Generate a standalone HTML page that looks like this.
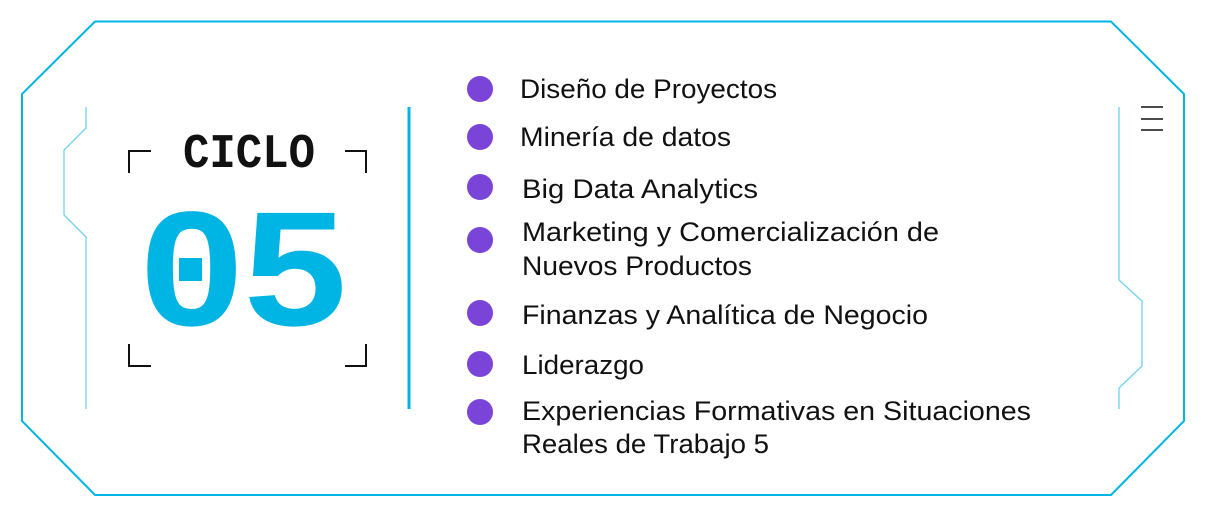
<!DOCTYPE html>
<html><head><meta charset="utf-8"><style>
html,body{margin:0;padding:0;background:#fff;}
svg{display:block;}
</style></head><body>
<svg width="1206" height="517" viewBox="0 0 1206 517" xmlns="http://www.w3.org/2000/svg">
<polygon points="95,21.5 1111,21.5 1184,94 1184,421 1111,495 95,495 22,421 22,94" fill="none" stroke="#00b4e3" stroke-width="2"/>
<polyline points="86,107 86,128 64,150 64,215 86,237 86,409" fill="none" stroke="#6fd0f0" stroke-width="1.3"/>
<polyline points="1119,107 1119,280 1142,301 1142,366 1119,388 1119,409" fill="none" stroke="#6fd0f0" stroke-width="1.3"/>
<g stroke="#111" stroke-width="1.5">
<line x1="1141" y1="107" x2="1163" y2="107"/>
<line x1="1141" y1="119" x2="1163" y2="119"/>
<line x1="1141" y1="130" x2="1163" y2="130"/>
</g>
<rect x="407.5" y="107" width="3" height="302" fill="#00b4e3"/>
<g fill="none" stroke="#111" stroke-width="2">
<polyline points="151,151 129,151 129,173"/>
<polyline points="345,151 366,151 366,173"/>
<polyline points="129,344 129,366 151,366"/>
<polyline points="366,344 366,366 345,366"/>
</g>
<text x="183" y="167" font-family="Liberation Mono, monospace" font-weight="bold" font-size="48" textLength="132" lengthAdjust="spacingAndGlyphs" fill="#111">CICLO</text>
<text x="140" y="325" font-family="Liberation Sans, sans-serif" font-weight="bold" font-size="163" textLength="207" lengthAdjust="spacingAndGlyphs" fill="#00b4e3">05</text>
<rect x="179" y="258" width="23" height="23" fill="#00b4e3"/>
<g fill="#7b44d8">
<circle cx="480" cy="89" r="13"/>
<circle cx="480" cy="137" r="13"/>
<circle cx="480" cy="187" r="13"/>
<circle cx="480" cy="240" r="13"/>
<circle cx="480" cy="313" r="13"/>
<circle cx="480" cy="364" r="13"/>
<circle cx="480" cy="412" r="13"/>
</g>
<g font-family="Liberation Sans, sans-serif" font-size="27" fill="#111">
<text x="520" y="98" textLength="257" lengthAdjust="spacingAndGlyphs">Diseño de Proyectos</text>
<text x="520" y="146" textLength="211" lengthAdjust="spacingAndGlyphs">Minería de datos</text>
<text x="522" y="198" textLength="236" lengthAdjust="spacingAndGlyphs">Big Data Analytics</text>
<text x="522" y="241" textLength="417" lengthAdjust="spacingAndGlyphs">Marketing y Comercialización de</text>
<text x="522" y="275" textLength="230" lengthAdjust="spacingAndGlyphs">Nuevos Productos</text>
<text x="522" y="324" textLength="406" lengthAdjust="spacingAndGlyphs">Finanzas y Analítica de Negocio</text>
<text x="522" y="374" textLength="122" lengthAdjust="spacingAndGlyphs">Liderazgo</text>
<text x="522" y="420" textLength="509" lengthAdjust="spacingAndGlyphs">Experiencias Formativas en Situaciones</text>
<text x="522" y="453" textLength="247" lengthAdjust="spacingAndGlyphs">Reales de Trabajo 5</text>
</g>
</svg>
</body></html>
